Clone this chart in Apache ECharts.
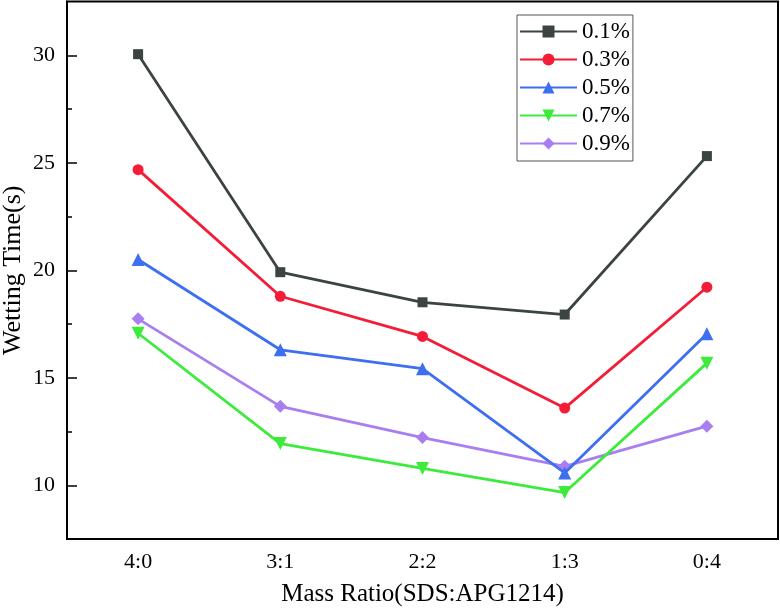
<!DOCTYPE html>
<html>
<head>
<meta charset="utf-8">
<script src="https://cdn.jsdelivr.net/npm/echarts@6/dist/echarts.min.js"></script>
<style>html,body{margin:0;padding:0;background:#fff}#c{width:780px;height:610px}</style>
</head>
<body>
<div id="c"></div>
<script>
var categories = ['4:0', '3:1', '2:2', '1:3', '0:4'];
var seriesNames = ['0.1%', '0.3%', '0.5%', '0.7%', '0.9%'];
var s01 = [30.05, 19.91, 18.51, 17.94, 25.31];
var s03 = [24.68, 18.79, 16.92, 13.59, 19.21];
var s05 = [20.50, 16.30, 15.42, 10.57, 17.05];
var s07 = [17.07, 11.94, 10.78, 9.66, 15.68];
var s09 = [17.74, 13.67, 12.22, 10.88, 12.75];
var majorTicks = [10, 15, 20, 25, 30];
var minorTicks = [12.5, 17.5, 22.5, 27.5];

var colors = ['#3c4343', '#f41c36', '#3d6ff0', '#3ceb3c', '#a97ef0'];
var symbols = ['rect', 'circle', 'triangle', 'triangle', 'diamond'];
var rotations = [0, 0, 0, 180, 0];
var sizes = [10, 11, 13, 13, 13];
var dataSets = [s01, s03, s05, s07, s09];
var FONT = 'Liberation Serif';

var series = dataSets.map(function (d, i) {
  return {
    name: seriesNames[i],
    type: 'line',
    data: d,
    symbol: symbols[i],
    symbolRotate: rotations[i],
    symbolSize: sizes[i],
    showAllSymbol: true,
    lineStyle: { color: colors[i], width: 2.8 },
    itemStyle: { color: colors[i] },
    emphasis: { disabled: true },
    z: 10 - i
  };
});

var chart = echarts.init(document.getElementById('c'), null, { renderer: 'canvas' });
chart.setOption({
  animation: false,
  backgroundColor: '#fff',
  grid: { left: 67, right: 2, top: 1.5, bottom: 71, containLabel: false, outerBoundsMode: 'none',
          show: true, borderColor: '#000', borderWidth: 2, backgroundColor: 'transparent' },
  legend: {
    data: seriesNames,
    orient: 'vertical',
    left: 517, top: 15,
    padding: [5, 3, 6, 2],
    borderColor: '#555', borderWidth: 1,
    itemWidth: 57, itemHeight: 15, itemGap: 5,
    textStyle: { fontFamily: FONT, fontSize: 23, color: '#000', lineHeight: 23 }
  },
  xAxis: {
    type: 'category',
    data: categories,
    boundaryGap: true,
    name: 'Mass Ratio(SDS:APG1214)',
    nameLocation: 'middle',
    nameGap: 43,
    nameTextStyle: { fontFamily: FONT, fontSize: 25, color: '#000' },
    axisLine: { lineStyle: { color: '#000', width: 2 } },
    axisTick: { inside: true, alignWithLabel: true, length: 8, lineStyle: { color: '#000', width: 1.5 } },
    axisLabel: { fontFamily: FONT, fontSize: 22, color: '#000', margin: 12 },
    splitLine: { show: false }
  },
  yAxis: [{
    type: 'value',
    min: 7.5, max: 32.5,
    name: 'Wetting Time(s)',
    nameLocation: 'middle',
    nameGap: 41,
    nameMoveOverlap: false,
    nameTextStyle: { fontFamily: FONT, fontSize: 26, color: '#000' },
    axisLine: { show: true, lineStyle: { color: '#000', width: 2 } },
    axisTick: { show: true, inside: true, length: 10, customValues: majorTicks, lineStyle: { color: '#000', width: 1.5 } },
    axisLabel: { fontFamily: FONT, fontSize: 22, color: '#000', margin: 12, customValues: majorTicks },
    splitLine: { show: false }
  }, {
    type: 'value',
    min: 7.5, max: 32.5,
    position: 'left',
    axisLine: { show: false },
    axisTick: { show: true, inside: true, length: 5, customValues: minorTicks, lineStyle: { color: '#000', width: 1.5 } },
    axisLabel: { show: false },
    splitLine: { show: false }
  }],
  series: series
});
</script>
</body>
</html>
